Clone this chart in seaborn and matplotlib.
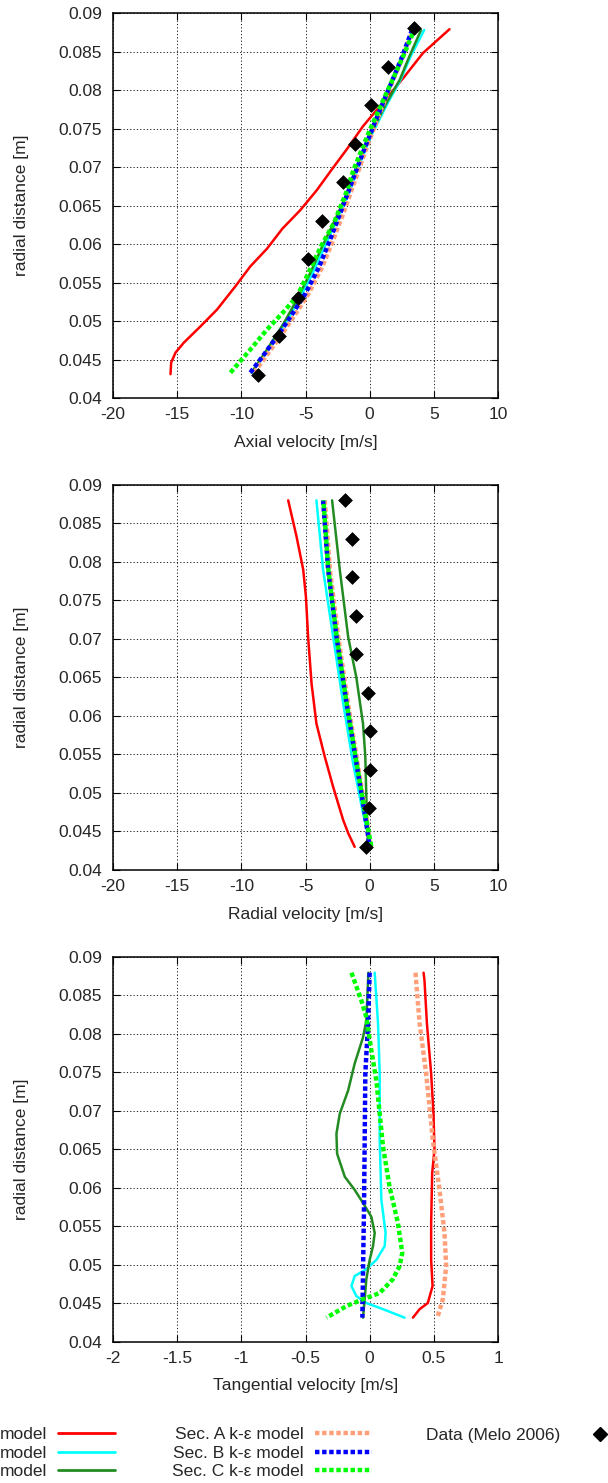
import matplotlib
matplotlib.use("Agg")
import matplotlib.pyplot as plt
from matplotlib.lines import Line2D
import seaborn as sns

# ---------------------------------------------------------------------------
# Measured data (Melo 2006), radial stations shared by all components
# ---------------------------------------------------------------------------
r_data = [0.043, 0.048, 0.053, 0.058, 0.063, 0.068, 0.073, 0.078, 0.083, 0.088]
axial_data = [-8.73, -7.05, -5.62, -4.77, -3.74, -2.06, -1.17, 0.13, 1.42, 3.42]
radial_data = [-0.26, -0.05, 0.0, 0.0, -0.13, -1.09, -1.04, -1.37, -1.35, -1.89]

# ---------------------------------------------------------------------------
# Axial velocity profiles
# ---------------------------------------------------------------------------
ax_r_A_rsm = [0.0431, 0.0446, 0.0459, 0.0472, 0.0493, 0.0515, 0.0545, 0.0571, 0.0594,
              0.0620, 0.0644, 0.0670, 0.0698, 0.0725, 0.0753, 0.0789, 0.0815, 0.0848, 0.0879]
ax_v_A_rsm = [-15.52, -15.47, -15.13, -14.48, -13.19, -11.89, -10.47, -9.30, -8.0,
              -6.8, -5.41, -4.12, -2.9, -1.7, -0.52, 1.30, 2.59, 4.15, 6.22]

ax_r_rsm = [0.0433, 0.0463, 0.0497, 0.0528, 0.0562, 0.0595, 0.0635, 0.0666, 0.0697,
            0.074, 0.0783, 0.0813, 0.0844, 0.0878]
ax_v_B_rsm = [-9.2, -7.9, -6.55, -5.5, -4.45, -3.55, -2.45, -1.6, -0.95,
              0.1, 1.4, 2.4, 3.2, 4.25]
ax_v_C_rsm = [-9.2, -8.0, -6.7, -5.67, -4.64, -3.75, -2.6, -1.75, -1.1,
              0.0, 1.3, 2.33, 3.1, 4.0]

ax_r_ke = [0.0433, 0.0455, 0.0485, 0.051, 0.0536, 0.057, 0.0605, 0.064, 0.068,
           0.072, 0.076, 0.080, 0.084, 0.0878]
ax_v_A_ke = [-9.0, -8.05, -6.75, -5.75, -4.75, -3.7, -2.85, -2.05, -1.2,
             -0.35, 0.55, 1.5, 2.5, 3.35]
ax_v_B_ke = [-9.3, -8.3, -7.0, -6.0, -5.0, -3.95, -3.1, -2.3, -1.4,
             -0.5, 0.45, 1.45, 2.45, 3.3]
ax_r_C_ke = [0.0433, 0.0463, 0.0489, 0.0512, 0.0532, 0.0558, 0.0597, 0.0627, 0.0666,
             0.0697, 0.0748, 0.0796, 0.0843, 0.0875]
ax_v_C_ke = [-10.85, -9.3, -8.0, -6.71, -5.67, -4.9, -3.8, -2.8, -1.85,
             -1.25, 0.0, 1.3, 2.59, 3.4]

# ---------------------------------------------------------------------------
# Radial velocity profiles
# ---------------------------------------------------------------------------
rd_r_A_rsm = [0.088, 0.0833, 0.079, 0.0755, 0.0703, 0.0642, 0.059, 0.0547, 0.0508,
              0.0465, 0.0448, 0.043]
rd_v_A_rsm = [-6.35, -5.7, -5.18, -4.97, -4.8, -4.53, -4.15, -3.5, -2.85,
              -2.07, -1.68, -1.17]
rd_r_B_rsm = [0.088, 0.079, 0.0703, 0.0617, 0.0539, 0.0474, 0.044, 0.043]
rd_v_B_rsm = [-4.15, -3.63, -2.85, -2.07, -1.3, -0.52, -0.05, 0.1]
rd_r_C_rsm = [0.088, 0.079, 0.0703, 0.065, 0.059, 0.0547, 0.0494, 0.043]
rd_v_C_rsm = [-2.93, -2.33, -1.68, -1.04, -0.52, -0.34, -0.26, -0.13]
rd_r_ke = [0.088, 0.079, 0.0703, 0.0617, 0.0539, 0.0474, 0.043]
rd_v_A_ke = [-3.5, -3.1, -2.45, -1.7, -0.95, -0.32, 0.05]
rd_v_B_ke = [-3.63, -3.24, -2.59, -1.81, -1.04, -0.39, 0.0]
rd_v_C_ke = [-3.6, -3.22, -2.57, -1.8, -1.02, -0.35, 0.13]

# ---------------------------------------------------------------------------
# Tangential velocity profiles
# ---------------------------------------------------------------------------
tg_r_A_rsm = [0.0879, 0.0869, 0.0813, 0.0748, 0.0696, 0.0649, 0.0619, 0.0554, 0.0506,
              0.0472, 0.045, 0.0442, 0.0431]
tg_v_A_rsm = [0.42, 0.427, 0.446, 0.479, 0.497, 0.505, 0.487, 0.479, 0.479,
              0.49, 0.453, 0.389, 0.337]
tg_r_B_rsm = [0.0879, 0.0813, 0.0748, 0.0662, 0.0584, 0.0541, 0.0524, 0.0506, 0.0494,
              0.0485, 0.0472, 0.0459, 0.045, 0.0442, 0.0431]
tg_v_B_rsm = [0.039, 0.065, 0.078, 0.078, 0.091, 0.124, 0.117, 0.052, -0.026,
              -0.117, -0.142, -0.104, -0.026, 0.104, 0.272]
tg_r_C_rsm = [0.0879, 0.0817, 0.0795, 0.0761, 0.0726, 0.0696, 0.067, 0.0644, 0.0614,
              0.0597, 0.058, 0.0562, 0.0541, 0.0524, 0.0506, 0.0481, 0.0455, 0.0431]
tg_v_C_rsm = [-0.01, -0.026, -0.052, -0.117, -0.168, -0.233, -0.259, -0.254, -0.194,
              -0.117, -0.052, 0.013, 0.039, 0.026, 0.0, -0.026, -0.039, -0.052]
tg_r_A_ke = [0.0879, 0.0813, 0.0748, 0.0662, 0.0597, 0.0541, 0.0498, 0.0455, 0.0433]
tg_v_A_ke = [0.357, 0.389, 0.44, 0.492, 0.544, 0.583, 0.596, 0.57, 0.531]
tg_r_B_ke = [0.0879, 0.0813, 0.0748, 0.0662, 0.0576, 0.049, 0.0431]
tg_v_B_ke = [0.0, -0.013, -0.034, -0.039, -0.044, -0.052, -0.057]
tg_r_C_ke = [0.0879, 0.0843, 0.0821, 0.0778, 0.0739, 0.0653, 0.0601, 0.0554, 0.0515,
             0.0498, 0.0481, 0.0463, 0.0455, 0.0446, 0.0431]
tg_v_C_ke = [-0.142, -0.065, -0.026, 0.013, 0.052, 0.104, 0.155, 0.22, 0.254,
             0.233, 0.181, 0.078, -0.052, -0.181, -0.337]

# ---------------------------------------------------------------------------
# Axis ticks and labels
# ---------------------------------------------------------------------------
r_ticks = [0.04, 0.045, 0.05, 0.055, 0.06, 0.065, 0.07, 0.075, 0.08, 0.085, 0.09]
r_tick_labels = ["0.04", "0.045", "0.05", "0.055", "0.06", "0.065", "0.07",
                 "0.075", "0.08", "0.085", "0.09"]
v_ticks = [-20, -15, -10, -5, 0, 5, 10]
v_tick_labels = ["-20", "-15", "-10", "-5", "0", "5", "10"]
t_ticks = [-2, -1.5, -1, -0.5, 0, 0.5, 1]
t_tick_labels = ["-2", "-1.5", "-1", "-0.5", "0", "0.5", "1"]

legend_rsm = ["model", "model", "model"]
legend_ke = ["Sec. A k-\u03b5 model", "Sec. B k-\u03b5 model", "Sec. C k-\u03b5 model"]
legend_data = "Data (Melo 2006)"

# ---------------------------------------------------------------------------
# Styling
# ---------------------------------------------------------------------------
sns.set_theme(style="white")
plt.rcParams["font.family"] = ["Liberation Sans", "DejaVu Sans"]
plt.rcParams["axes.unicode_minus"] = False
FS = 12.5

C_RED, C_CYAN, C_DKGREEN = "#ff0000", "#00ffff", "#228b22"
C_ORANGE, C_BLUE, C_GREEN = "#ffa07a", "#0000ff", "#00ff00"
LW_SOLID = 1.8
LW_DASH = 3.2
DASH = (0, (1, 0.6))
DASH_ALT = (0.8, (1, 0.6))
MS = 7.0

fig = plt.figure(figsize=(6.08, 14.83), dpi=100)
left, width, height = 0.1859, 0.6332, 0.2596
bottoms = [0.7316, 0.4134, 0.0954]
axs = [fig.add_axes([left, b, width, height]) for b in bottoms]


def solid(ax, v, r, c):
    sns.lineplot(x=v, y=r, ax=ax, color=c, lw=LW_SOLID, sort=False,
                 estimator=None, legend=False, zorder=2)


def dashed(ax, v, r, c, ls=DASH):
    sns.lineplot(x=v, y=r, ax=ax, color=c, lw=LW_DASH, linestyle=ls, sort=False,
                 estimator=None, legend=False, zorder=3)


def data(ax, v):
    sns.scatterplot(x=v, y=r_data, ax=ax, marker="D", s=MS ** 2, color="black",
                    edgecolor="black", linewidth=0.5, legend=False, zorder=5)


# Axial
ax = axs[0]
solid(ax, ax_v_A_rsm, ax_r_A_rsm, C_RED)
solid(ax, ax_v_B_rsm, ax_r_rsm, C_CYAN)
solid(ax, ax_v_C_rsm, ax_r_rsm, C_DKGREEN)
dashed(ax, ax_v_A_ke, ax_r_ke, C_ORANGE)
dashed(ax, ax_v_B_ke, ax_r_ke, C_BLUE)
dashed(ax, ax_v_C_ke, ax_r_C_ke, C_GREEN)
data(ax, axial_data)

# Radial
ax = axs[1]
solid(ax, rd_v_A_rsm, rd_r_A_rsm, C_RED)
solid(ax, rd_v_B_rsm, rd_r_B_rsm, C_CYAN)
solid(ax, rd_v_C_rsm, rd_r_C_rsm, C_DKGREEN)
dashed(ax, rd_v_A_ke, rd_r_ke, C_ORANGE)
dashed(ax, rd_v_B_ke, rd_r_ke, C_BLUE)
dashed(ax, rd_v_C_ke, rd_r_ke, C_GREEN, ls=DASH_ALT)
data(ax, radial_data)

# Tangential
ax = axs[2]
solid(ax, tg_v_A_rsm, tg_r_A_rsm, C_RED)
solid(ax, tg_v_B_rsm, tg_r_B_rsm, C_CYAN)
solid(ax, tg_v_C_rsm, tg_r_C_rsm, C_DKGREEN)
dashed(ax, tg_v_A_ke, tg_r_A_ke, C_ORANGE)
dashed(ax, tg_v_B_ke, tg_r_B_ke, C_BLUE)
dashed(ax, tg_v_C_ke, tg_r_C_ke, C_GREEN)

xlabels = ["Axial velocity [m/s]", "Radial velocity [m/s]", "Tangential velocity [m/s]"]
xtick_sets = [(v_ticks, v_tick_labels), (v_ticks, v_tick_labels), (t_ticks, t_tick_labels)]
for ax, xl, (tk, tl) in zip(axs, xlabels, xtick_sets):
    ax.set_xlim(tk[0], tk[-1])
    ax.set_ylim(r_ticks[0], r_ticks[-1])
    ax.set_xticks(tk)
    ax.set_xticklabels(tl, fontsize=FS)
    ax.set_yticks(r_ticks)
    ax.set_yticklabels(r_tick_labels, fontsize=FS)
    ax.tick_params(axis="both", which="major", direction="in", length=4.8, width=0.8,
                   color="black", top=True, right=True, bottom=True, left=True)
    ax.tick_params(axis="x", pad=6.5)
    ax.tick_params(axis="y", pad=7.9)
    ax.grid(True, color="black", linestyle=(0, (1.5, 2.5)), linewidth=0.6)
    ax.set_axisbelow(True)
    for sp in ax.spines.values():
        sp.set_color("black")
        sp.set_linewidth(1.1)
    ax.set_xlabel(xl, fontsize=FS, va="center")
    ax.xaxis.set_label_coords(0.5, -0.115)
    ax.set_ylabel("radial distance [m]", fontsize=FS, va="center")
    ax.yaxis.set_label_coords(-0.237, 0.5)
    ax.set_facecolor("white")

# Legend: three right-aligned columns, key drawn after the text
H_LEN = 3.28
rsm_handles = [Line2D([], [], color=c, lw=2.0) for c in (C_RED, C_CYAN, C_DKGREEN)]
ke_handles = [Line2D([], [], color=c, lw=LW_DASH, linestyle=DASH)
              for c in (C_ORANGE, C_BLUE, C_GREEN)]
data_handle = [Line2D([], [], color="black", marker="D", ms=MS, linestyle="none")]

common = dict(frameon=False, markerfirst=False, loc="center right", fontsize=FS,
              handlelength=H_LEN, handletextpad=0.63, borderpad=0.0,
              borderaxespad=0.0, labelspacing=0.17)
y_mid = 1 - 1453 / 1483
fig.legend(rsm_handles, legend_rsm, bbox_to_anchor=(115 / 608, y_mid), **common)
fig.legend(ke_handles, legend_ke, bbox_to_anchor=(372 / 608, y_mid), **common)
fig.legend(data_handle, [legend_data], bbox_to_anchor=(628 / 608, 1 - 1435 / 1483),
           **common)

fig.savefig("out.png", dpi=100, facecolor="white")
